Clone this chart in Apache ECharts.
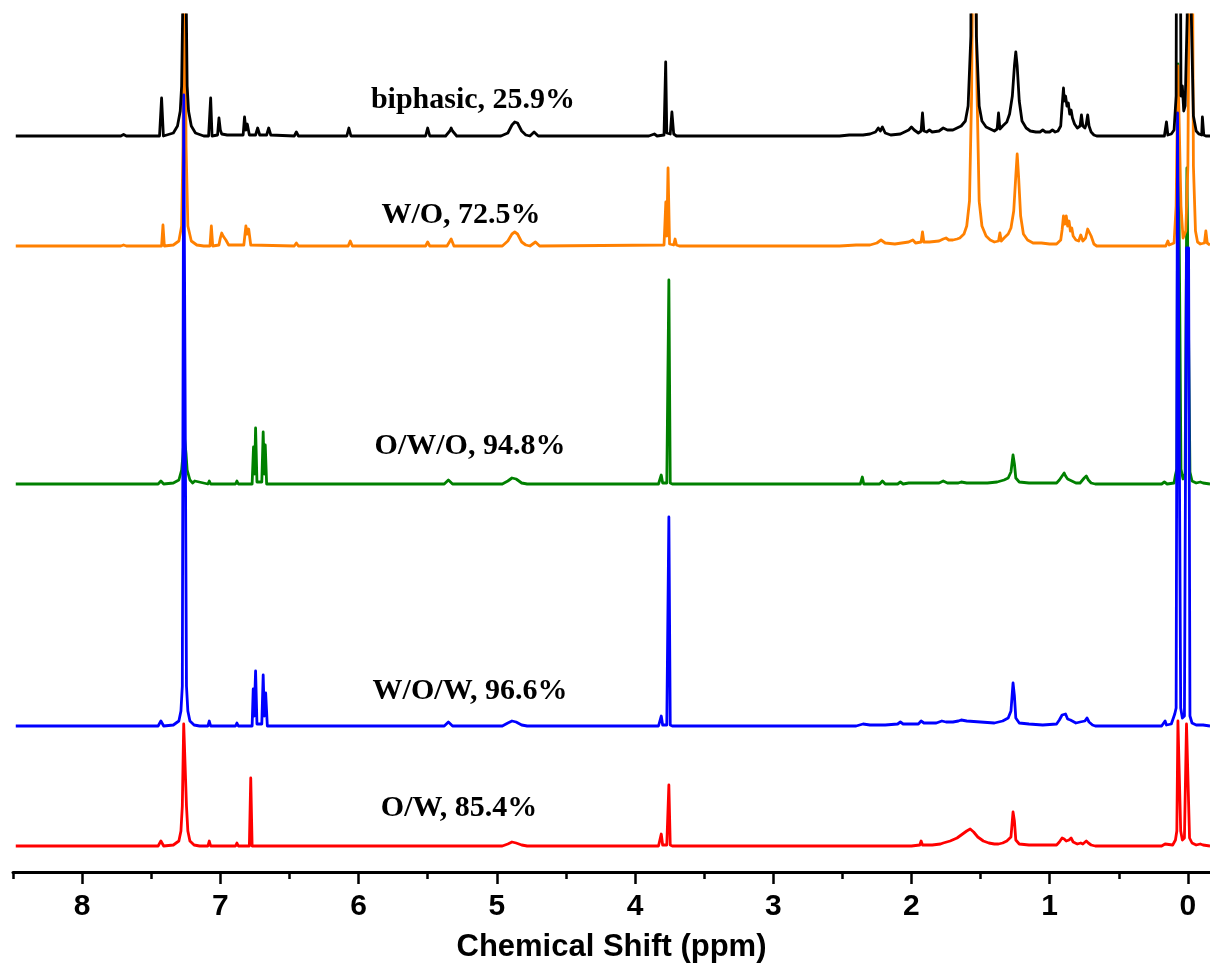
<!DOCTYPE html>
<html>
<head>
<meta charset="utf-8">
<script src="https://cdn.jsdelivr.net/npm/echarts@6/dist/echarts.min.js"></script>
<style>html,body{margin:0;padding:0;background:#fff}#c{width:1210px;height:972px}</style>
</head>
<body>
<div id="c"></div>
<script>
// ---- Axis ----
const ppmMin = -0.16, ppmMax = 8.5;
const majorTicks = [0, 1, 2, 3, 4, 5, 6, 7, 8];
const minorTicks = [0.5, 1.5, 2.5, 3.5, 4.5, 5.5, 6.5, 7.5, 8.5];
const axisTitle = 'Chemical Shift (ppm)';

// ---- Spectra: [ppm, intensity above own baseline] ----
const specNames = ['biphasic, 25.9%', 'W/O, 72.5%', 'O/W/O, 94.8%', 'W/O/W, 96.6%', 'O/W, 85.4%'];
const specOffsets = [736, 626, 388, 146, 26];
const specColors = ['#000000', '#FF8000', '#008000', '#0000FF', '#FF0000'];

const biphasic = [
[8.48,0],[7.72,0],[7.70,1.5],[7.68,0],
[7.44,0],[7.425,38],[7.412,0],
[7.40,0],[7.34,3],[7.31,10],[7.29,25],[7.28,50],[7.27,150],[7.262,900],[7.255,900],[7.248,150],[7.24,50],[7.23,25],[7.21,10],[7.18,3],[7.12,0],
[7.085,0],[7.07,38],[7.06,0],[7.02,1],[7.01,18],[7.00,6],[6.99,2],[6.95,1],[6.94,3],[6.93,1],
[6.835,1],[6.825,19],[6.815,6],[6.805,12],[6.79,1],
[6.745,1],[6.73,8],[6.715,1],[6.665,1],[6.65,8],[6.635,1],
[6.465,0],[6.45,4],[6.435,0],
[6.085,0],[6.07,8],[6.055,0],
[5.515,0],[5.50,8],[5.485,0],
[5.37,0],[5.34,5],[5.33,8],[5.32,5],[5.29,0],
[4.97,0],[4.92,3],[4.89,11],[4.87,14],[4.85,13],[4.82,5],[4.79,1],[4.76,0],[4.73,4],[4.70,0],
[3.90,0],[3.86,2],[3.84,0],[3.79,1],[3.778,74],[3.77,3],[3.745,2],[3.733,24],[3.72,2],[3.70,0],
[2.52,0],[2.45,1],[2.35,1],[2.30,2],[2.26,4],[2.24,8],[2.225,5],[2.21,9],[2.19,3],[2.15,1],[2.08,2],[2.02,6],[2.00,9],[1.98,6],[1.95,3],[1.93,5],[1.92,23],[1.91,5],[1.89,4],[1.87,6],[1.85,4],[1.80,5],[1.77,8],[1.76,9],[1.74,6],[1.70,6],[1.67,8],[1.66,9],[1.64,10],[1.61,15],[1.59,30],[1.57,100],[1.555,900],[1.545,900],[1.53,100],[1.51,30],[1.49,15],[1.46,9],[1.43,7],[1.40,5],[1.38,7],[1.37,23],[1.36,7],[1.34,10],[1.31,14],[1.29,22],[1.27,40],[1.255,70],[1.245,84],[1.235,70],[1.22,35],[1.20,15],[1.17,8],[1.14,5],[1.10,4],[1.07,4],[1.05,6],[1.03,4],[1.00,4],[0.98,6],[0.96,4],[0.94,5],[0.92,10],[0.91,30],[0.90,48],[0.895,35],[0.885,40],[0.875,30],[0.865,33],[0.855,22],[0.845,26],[0.835,18],[0.82,12],[0.80,8],[0.78,10],[0.77,21],[0.76,10],[0.745,8],[0.735,12],[0.725,21],[0.715,10],[0.70,4],[0.68,1],[0.66,0],
[0.17,0],[0.155,14],[0.145,1],[0.12,2],[0.10,6],[0.085,40],[0.072,900],[0.062,900],[0.05,40],[0.04,50],[0.03,25],[0.02,30],[0.005,120],[-0.005,900],[-0.015,900],[-0.025,120],[-0.04,20],[-0.06,5],[-0.08,2],[-0.10,1],[-0.105,19],[-0.115,1],[-0.13,0],[-0.16,0]
];

const wo = [
[8.48,0],[7.72,0],[7.70,1],[7.68,0],
[7.425,0],[7.415,21],[7.405,0],
[7.34,1],[7.30,5],[7.28,20],[7.27,100],[7.262,400],[7.255,400],[7.248,100],[7.235,20],[7.21,5],[7.17,1],[7.12,0],
[7.075,0],[7.065,20],[7.055,0],
[7.01,1],[7.00,8],[6.99,13],[6.98,10],[6.97,12],[6.96,6],[6.94,1],
[6.83,1],[6.815,20],[6.805,12],[6.795,17],[6.78,1],
[6.465,0],[6.45,3],[6.435,0],
[6.075,0],[6.06,5],[6.045,0],
[5.515,0],[5.50,4],[5.485,0],
[5.36,0],[5.33,7],[5.31,0],
[4.96,0],[4.92,5],[4.89,12],[4.87,14],[4.85,12],[4.82,4],[4.79,1],[4.76,0],[4.72,4],[4.69,0],
[3.79,1],[3.777,44],[3.77,10],[3.761,78],[3.75,2],[3.72,1],[3.71,7],[3.70,1],[3.68,0],
[2.52,0],[2.40,1],[2.30,1],[2.25,3],[2.22,6],[2.21,7],[2.19,3],[2.12,2],[2.02,4],[1.99,6],[1.97,3],[1.93,4],[1.92,14],[1.91,4],[1.87,4],[1.80,5],[1.77,7],[1.75,8],[1.73,6],[1.70,6],[1.67,7],[1.65,8],[1.62,12],[1.60,20],[1.58,45],[1.565,150],[1.55,400],[1.54,400],[1.525,150],[1.51,45],[1.49,20],[1.46,10],[1.43,6],[1.40,4],[1.37,5],[1.36,13],[1.35,5],[1.33,8],[1.30,12],[1.28,18],[1.26,35],[1.245,70],[1.235,92],[1.225,70],[1.21,30],[1.19,12],[1.16,6],[1.12,3],[1.06,3],[1.00,2],[0.95,2],[0.92,6],[0.91,16],[0.90,30],[0.89,22],[0.88,30],[0.87,20],[0.86,25],[0.85,15],[0.84,18],[0.83,10],[0.81,6],[0.79,5],[0.775,11],[0.76,5],[0.74,8],[0.725,17],[0.715,19],[0.70,10],[0.68,2],[0.66,0],
[0.16,0],[0.145,5],[0.135,1],[0.10,3],[0.085,40],[0.072,180],[0.062,180],[0.05,40],[0.035,8],[0.015,15],[0.0,80],[-0.015,400],[-0.03,400],[-0.04,80],[-0.055,15],[-0.07,4],[-0.09,2],[-0.12,3],[-0.13,15],[-0.14,3],[-0.16,1]
];

const owo = [
[8.48,0],[7.45,0],[7.43,3],[7.41,0],
[7.34,1],[7.30,4],[7.28,14],[7.27,30],[7.262,50],[7.255,50],[7.248,30],[7.24,14],[7.22,4],[7.20,1],[7.185,3],[7.175,1],
[7.09,0],[7.08,3],[7.07,0],[6.89,0],[6.88,3],[6.87,0],
[6.77,0],[6.76,37],[6.752,10],[6.745,56],[6.735,2],[6.70,2],[6.69,52],[6.682,10],[6.675,39],[6.665,0],
[6.23,0],[6.22,1.5],[6.21,0],[6.08,0],[6.07,1.5],[6.06,0],[5.53,0],[5.52,1.5],[5.51,0],
[5.38,0],[5.35,4],[5.32,0],
[4.96,0],[4.92,3],[4.89,6],[4.86,5],[4.82,1],[4.78,0],
[3.83,0],[3.81,9],[3.80,1],[3.77,1],[3.755,204],[3.745,1],[3.73,0],
[2.37,0],[2.355,7],[2.345,0],[2.23,0],[2.21,3],[2.19,0],[2.10,0],[2.08,2],[2.06,0],[2.02,1],[2.01,3],[1.99,1],[1.95,1],[1.94,3],[1.92,1],[1.80,1],[1.77,3],[1.74,1],[1.66,1],[1.64,2],[1.60,1],[1.45,1],[1.38,2],[1.33,4],[1.30,6],[1.28,12],[1.265,29],[1.255,20],[1.245,6],[1.22,2],[1.15,1],[1.05,1],[0.95,1],[0.93,4],[0.91,8],[0.895,11],[0.885,8],[0.87,5],[0.86,6],[0.84,3],[0.81,1],[0.78,1],[0.75,6],[0.735,8],[0.72,4],[0.70,1],[0.67,0],
[0.19,0],[0.17,2],[0.15,0],[0.10,1],[0.09,9],[0.08,15],[0.072,420],[0.062,420],[0.05,15],[0.035,5],[0.02,10],[0.007,316],[-0.005,316],[-0.015,12],[-0.03,3],[-0.06,1],[-0.09,2],[-0.11,1],[-0.16,0]
];

const wow = [
[8.48,0],[7.45,0],[7.43,5],[7.41,0],
[7.34,1],[7.30,5],[7.285,15],[7.275,40],[7.265,631],[7.255,631],[7.245,40],[7.235,15],[7.22,5],[7.19,1],[7.15,0],
[7.09,0],[7.08,5],[7.07,0],[6.89,0],[6.88,3],[6.87,0],
[6.77,0],[6.762,37],[6.755,10],[6.745,55],[6.735,2],[6.70,2],[6.69,51],[6.682,10],[6.672,33],[6.66,0],
[6.23,0],[6.22,1.5],[6.21,0],[6.08,0],[6.07,1.5],[6.06,0],[5.53,0],[5.52,1.5],[5.51,0],
[5.38,0],[5.35,4],[5.32,0],
[4.96,0],[4.92,3],[4.89,5],[4.86,4],[4.82,1],[4.78,0],
[3.83,0],[3.81,10],[3.80,1],[3.77,1],[3.755,209],[3.745,1],[3.73,0],[3.63,0],[3.62,1],[3.61,0],
[2.40,0],[2.35,2],[2.30,1],[2.22,1],[2.21,3],[2.19,1],[2.10,2],[2.08,4],[2.06,2],[2.02,2],[2.01,3],[1.99,2],[1.95,2],[1.93,5],[1.91,3],[1.82,3],[1.78,5],[1.75,4],[1.70,4],[1.66,5],[1.64,6],[1.60,5],[1.50,4],[1.40,3],[1.34,5],[1.30,8],[1.28,15],[1.265,43],[1.255,30],[1.245,8],[1.22,3],[1.15,2],[1.05,1],[0.95,2],[0.93,6],[0.91,11],[0.90,13],[0.885,12],[0.87,7],[0.85,6],[0.84,6],[0.81,3],[0.78,4],[0.77,3],[0.745,5],[0.73,8],[0.715,4],[0.69,1],[0.67,0],
[0.19,0],[0.165,5],[0.155,1],[0.12,2],[0.095,12],[0.085,18],[0.075,613],[0.062,613],[0.052,18],[0.04,8],[0.025,10],[0.01,478],[-0.005,478],[-0.015,10],[-0.03,3],[-0.06,1],[-0.09,1],[-0.10,3],[-0.11,1],[-0.16,0]
];

const ow = [
[8.48,0],[7.45,0],[7.43,5],[7.41,0],
[7.34,1],[7.30,5],[7.285,15],[7.275,40],[7.265,122],[7.255,122],[7.245,40],[7.235,15],[7.22,5],[7.19,1],[7.15,0],
[7.09,0],[7.08,5],[7.07,0],[6.89,0],[6.88,3],[6.87,0],
[6.79,0],[6.78,68],[6.77,0],
[6.22,0],[6.21,1.5],[6.20,0],[6.08,0],[6.07,1.5],[6.06,0],[5.33,0],[5.32,1.5],[5.31,0],
[4.96,0],[4.92,2],[4.89,4],[4.86,3],[4.82,1],[4.78,0],
[3.83,0],[3.81,12],[3.80,1],[3.77,1],[3.755,61],[3.745,1],[3.73,0],
[2.00,0],[1.94,1],[1.93,5],[1.92,1],[1.85,1],[1.79,2],[1.77,3],[1.72,5],[1.67,8],[1.63,12],[1.60,15],[1.575,17],[1.55,14],[1.52,9],[1.48,5],[1.44,3],[1.40,2],[1.37,2],[1.34,3],[1.31,5],[1.28,9],[1.265,34],[1.255,25],[1.245,6],[1.22,2],[1.15,1],[1.05,1],[0.95,1],[0.93,4],[0.91,8],[0.895,7],[0.88,5],[0.86,6],[0.845,8],[0.83,4],[0.80,2],[0.775,3],[0.76,2],[0.735,5],[0.72,3],[0.70,1],[0.67,0],
[0.19,0],[0.165,2],[0.155,0],[0.11,1],[0.09,6],[0.08,15],[0.072,125],[0.062,125],[0.052,15],[0.04,6],[0.025,8],[0.01,122],[-0.002,122],[-0.012,8],[-0.03,3],[-0.06,1],[-0.09,2],[-0.10,3],[-0.11,1],[-0.16,0]
];

const spectra = [biphasic, wo, owo, wow, ow];
// label anchor positions in pixels
const labelPos = [[473, 100], [461, 215], [470, 446], [470, 691], [459, 808]];
// draw order (bottom to top): red, green, orange, blue, black
const drawOrder = [4, 2, 1, 3, 0];

const chart = echarts.init(document.getElementById('c'), null, {renderer: 'canvas'});
const series = drawOrder.map(i => ({
  type: 'line',
  name: specNames[i],
  data: spectra[i].map(p => [p[0], p[1] + specOffsets[i]]),
  showSymbol: false,
  symbol: 'none',
  clip: true,
  silent: true,
  lineStyle: {color: specColors[i], width: 2.8, join: 'round'},
  itemStyle: {color: specColors[i]}
}));

const axisFont = {fontFamily: 'Liberation Sans, Arial, sans-serif', fontWeight: 'bold', color: '#000'};

chart.setOption({
  animation: false,
  backgroundColor: '#ffffff',
  grid: {left: 13, right: 0, top: 15, bottom: 100, containLabel: false},
  xAxis: [{
    type: 'value', min: ppmMin, max: ppmMax, inverse: true, position: 'bottom',
    splitLine: {show: false},
    axisLine: {onZero: false, lineStyle: {color: '#000', width: 3}},
    axisTick: {show: true, inside: false, length: 12, customValues: majorTicks, lineStyle: {color: '#000', width: 2.5}},
    axisLabel: Object.assign({customValues: majorTicks, margin: 20, fontSize: 30, formatter: v => String(v)}, axisFont),
    name: axisTitle, nameLocation: 'middle', nameGap: 60,
    nameTextStyle: Object.assign({fontSize: 31}, axisFont)
  }, {
    type: 'value', min: ppmMin, max: ppmMax, inverse: true, position: 'bottom', offset: 0,
    splitLine: {show: false},
    axisLine: {show: false},
    axisTick: {show: true, inside: false, length: 7, customValues: minorTicks, lineStyle: {color: '#000', width: 2.5}},
    axisLabel: {show: false}
  }],
  yAxis: {type: 'value', min: 0, max: 857, show: false},
  series: series,
  graphic: specNames.map((t, i) => ({
    type: 'text', x: labelPos[i][0], y: labelPos[i][1], silent: true, z: 100,
    style: {text: t, fill: '#000', font: 'bold 30px "Liberation Serif", "Times New Roman", serif', align: 'center', verticalAlign: 'middle'}
  }))
});
</script>
</body>
</html>
